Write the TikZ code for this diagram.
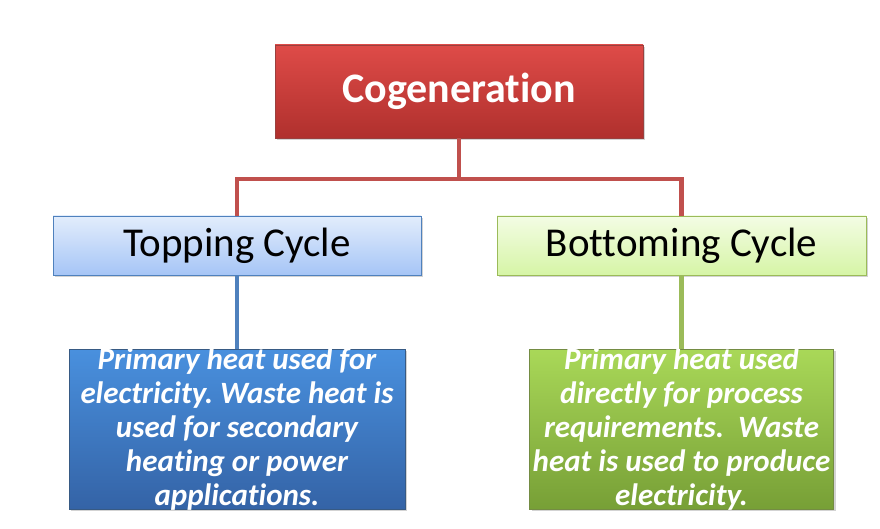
\documentclass[tikz,border=0pt]{standalone}
\usepackage{fontspec}
\setmainfont[Ligatures=NoCommon]{Carlito}
\usetikzlibrary{positioning,shadows}
\definecolor{cogred}{HTML}{C0504D}
\definecolor{topblue}{HTML}{4F81BD}
\definecolor{botgreen}{HTML}{9BBB59}
\definecolor{redtop}{HTML}{DE4B48}
\definecolor{redbot}{HTML}{B0302D}
\definecolor{ltbluetop}{HTML}{E2EDFC}
\definecolor{ltbluebot}{HTML}{A6C5F6}
\definecolor{ltgreentop}{HTML}{F3FCE4}
\definecolor{ltgreenbot}{HTML}{D6F5A6}
\definecolor{bluetop}{HTML}{4990DE}
\definecolor{bluebot}{HTML}{3463A6}
\definecolor{greentop}{HTML}{A9D858}
\definecolor{greenbot}{HTML}{779F36}
\tikzstyle{box}=[rectangle, draw, inner sep=0pt, drop shadow={shadow xshift=2pt,shadow yshift=-2pt,opacity=0.35}]
\tikzstyle{head}=[box, draw=cogred!80!black, top color=redtop, bottom color=redbot, text=white, font=\fontsize{42}{50}\selectfont\bfseries]
\tikzstyle{cycle}=[box, font=\fontsize{41}{49}\selectfont, text=black]
\tikzstyle{detail}=[box, minimum height=160pt]
\tikzstyle{note}=[text=white, align=center, font=\fontsize{31}{34}\selectfont\bfseries\itshape\frenchspacing]
\tikzstyle{link}=[line width=4.5pt]

\begin{document}
\begin{tikzpicture}[x=1pt,y=-1pt]
    \useasboundingbox (0,0) rectangle (880,529);
    \node (A) [head, minimum width=368pt, minimum height=93pt] at (459,91.5) {Cogeneration};
    \node (B) [cycle, minimum width=368pt, minimum height=59pt, draw=topblue, top color=ltbluetop, bottom color=ltbluebot] at (237,245.5) {Topping Cycle};
    \node (C) [cycle, minimum width=369pt, minimum height=59pt, draw=botgreen, top color=ltgreentop, bottom color=ltgreenbot] at (681.5,245.5) {Bottoming Cycle};
    \node (D) [detail, minimum width=336pt, draw=topblue!70!black, top color=bluetop, bottom color=bluebot] [below=74pt of B] {};
    \node (E) [detail, minimum width=304pt, draw=botgreen!75!black, top color=greentop, bottom color=greenbot] [below=74pt of C] {};
    \node [note] at (D.center) {Primary heat used for\\electricity. Waste heat is\\used for secondary\\heating or power\\applications.};
    \node [note] at (E.center) {Primary heat used\\directly for process\\requirements.\ \ Waste\\heat is used to produce\\electricity.};

    \draw[link, cogred] (A.south) -- ++(0,41) -| (B.north);
    \draw[link, cogred] (A.south) -- ++(0,41) -| (C.north);
    \draw[link, topblue] (B.south) -- (D.north);
    \draw[link, botgreen] (C.south) -- (E.north);
\end{tikzpicture}
\end{document}
